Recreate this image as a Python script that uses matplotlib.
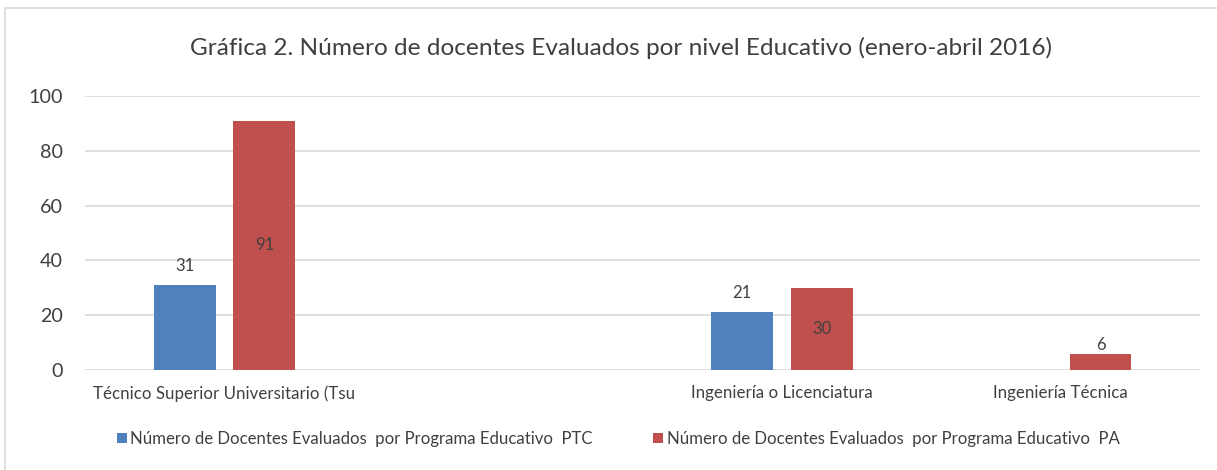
import numpy as np
import matplotlib.pyplot as plt
from matplotlib.patches import Rectangle

# ====================== DATA ======================
categories = ['Técnico Superior Universitario (Tsu', '', 'Ingeniería o Licenciatura', 'Ingeniería Técnica']
ptc = [31, 0, 21, 0]
pa = [91, 0, 30, 6]
series_names = ['Número de Docentes Evaluados  por Programa Educativo  PTC',
                'Número de Docentes Evaluados  por Programa Educativo  PA']
title = 'Gráfica 2. Número de docentes Evaluados por nivel Educativo (enero-abril 2016)'

plt.rcParams['font.family'] = ['Lato', 'DejaVu Sans']

blue = '#4f81bd'
red = '#c0504d'
grid_col = '#d9d9d9'
text_col = '#404040'

fig = plt.figure(figsize=(12.17, 4.70), dpi=100)
fig.patches.append(Rectangle((0.004, -0.01), 1.0, 0.993, transform=fig.transFigure,
                             fill=False, edgecolor='#d9d9d9', linewidth=1.2))

ax = fig.add_axes([0.070, 0.2128, 0.916, 0.583])
x = np.arange(len(categories))
w = 0.222
off = 0.143

ax.bar(x - off, ptc, w, color=blue, label=series_names[0], zorder=3)
ax.bar(x + off, pa, w, color=red, label=series_names[1], zorder=3)

# data labels: blue outside end, red centered
for i in range(len(categories)):
    if ptc[i] > 0:
        ax.text(x[i] - off, ptc[i] + 4, str(ptc[i]), ha='center', va='bottom',
                fontsize=12, color=text_col)
    if pa[i] > 10:
        ax.text(x[i] + off, pa[i] / 2, str(pa[i]), ha='center', va='center',
                fontsize=12, color=text_col)
    elif pa[i] > 0:
        ax.text(x[i] + off, pa[i] + 0.3, str(pa[i]), ha='center', va='bottom',
                fontsize=12, color=text_col)

ax.set_xlim(-0.5, len(categories) - 0.5)
ax.set_ylim(0, 100)
ax.set_yticks(range(0, 101, 20))
ax.set_xticks(x)
ax.set_xticklabels(categories, fontsize=12.2, color=text_col)
ax.tick_params(axis='y', labelsize=14.2, colors=text_col, length=0, pad=16)
ax.tick_params(axis='x', length=0, pad=11)
ax.grid(axis='y', color=grid_col, linewidth=1.2, zorder=0)
for s in ax.spines.values():
    s.set_visible(False)

fig.text(0.510, 0.898, title, ha='center', va='center', fontsize=17.6, color=text_col)

fig.legend(loc='center', bbox_to_anchor=(0.508, 0.066), ncol=2, frameon=False,
           fontsize=12.1, labelcolor=text_col, handlelength=0.6, handleheight=0.6,
           handletextpad=0.2, columnspacing=3.6)

plt.savefig('out.png', dpi=100)
